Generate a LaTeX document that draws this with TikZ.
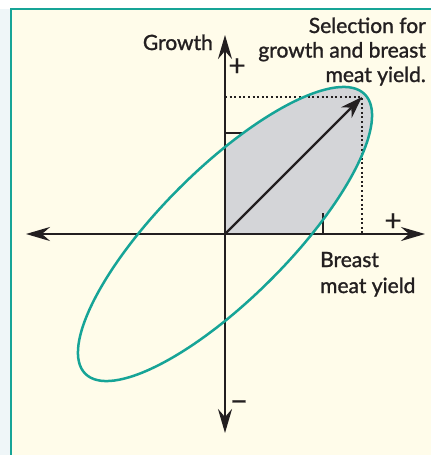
\documentclass[tikz,border=0pt]{standalone}
\usepackage{fontspec}
\setmainfont{Lato}
\newfontfamily\lblfont{Lato}[FakeBold=1.3]
\newfontfamily\signfont{Lato}[FakeBold=0.4]
\usetikzlibrary{arrows.meta}
\definecolor{teal2}{HTML}{16A497}
\definecolor{cream}{HTML}{FFFCEA}
\definecolor{sidebg}{HTML}{EFF6F8}
\definecolor{grayfill}{HTML}{D4D5D8}
\definecolor{ink}{HTML}{231F20}
\tikzset{
  axis/.style={line width=2.4pt, draw=ink, -{Stealth[length=24pt,width=14pt,inset=8pt]}},
  axisboth/.style={line width=2.4pt, draw=ink, {Stealth[length=24pt,width=14pt,inset=8pt]}-{Stealth[length=24pt,width=14pt,inset=8pt]}},
  vec/.style={line width=2.2pt, draw=ink, -{Stealth[length=22pt,width=15pt,inset=7pt]}},
  guide/.style={line width=2pt, draw=ink, dash pattern=on 2pt off 2.6pt},
  tick/.style={line width=2pt, draw=ink},
  lbl/.style={inner sep=0pt, text=ink, font=\lblfont\fontsize{21}{24.5}\selectfont},
  sign/.style={inner sep=0pt, text=ink, font=\signfont\fontsize{30}{30}\selectfont},
}
\begin{document}
\begin{tikzpicture}[x=1pt,y=-1pt]
\useasboundingbox (0,0) rectangle (431,455);
\fill[white] (0,0) rectangle (431,455);
\fill[sidebg] (0,9) rectangle (11,455);
\fill[cream] (11,9) rectangle (431,455);
\draw[teal2, line width=2.2pt] (11,455) -- (11,9) -- (431,9);

\coordinate (O) at (225,234);
\coordinate (xl) at (26,234);
\coordinate (xr) at (425,234);
\coordinate (yt) at (225,35);
\coordinate (yb) at (225,433);
\coordinate (P) at (362,97);
\coordinate (Px) at (362,234);
\coordinate (Py) at (225,97);
\coordinate (ta) at (225,133);
\coordinate (tb) at (244,133);
\coordinate (tc) at (323,234);
\coordinate (td) at (323,213);

% grey first-quadrant part of ellipse
\begin{scope}
  \clip (O) rectangle (431,9);
  \fill[grayfill, rotate around={45:(O)}] (O) ellipse [x radius=197.6, y radius=64.7];
\end{scope}

% guides
\draw[guide] (Py) -- (P) -- (Px);
\draw[tick] (ta) -- (tb);
\draw[tick] (tc) -- (td);

% axes
\draw[axisboth] (xl) -- (xr);
\draw[axis] (O) -- (yt);
\draw[axis] (O) -- (yb);
\draw[vec] (O) -- (P);

% ellipse
\draw[teal2, line width=2.5pt, rotate around={45:(O)}] (O) ellipse [x radius=197.6, y radius=64.7];

% labels
\node[lbl, anchor=base east] (growth) at (213,50) {Growth};
\node[lbl, anchor=base east] (sel1) at (426,33) {Selection for};
\node[lbl, anchor=base east] (sel2) at (426,57.5) {growth and breast};
\node[lbl, anchor=base east] (sel3) at (426,82) {meat yield.};
\node[lbl, anchor=base west] (br1) at (320,267) {Breast};
\node[lbl, anchor=base west] (br2) at (320,293) {meat yield};
\node[sign] (py) at (237,67) {+};
\node[sign] (px) at (393,222) {+};
\node[sign] (my) at (239,406) {−};
\end{tikzpicture}
\end{document}
